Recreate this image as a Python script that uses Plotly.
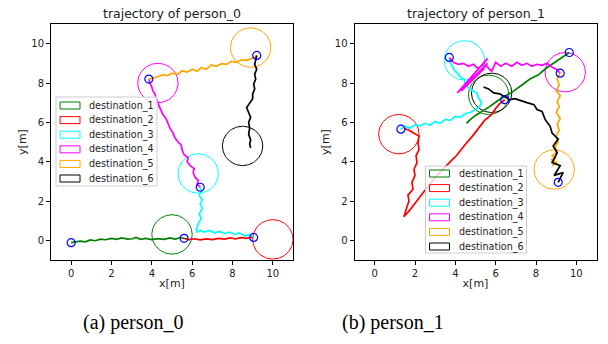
import numpy as np
import plotly.graph_objects as go

# ---------------- data ----------------
dest_names = ["destination_1", "destination_2", "destination_3",
              "destination_4", "destination_5", "destination_6"]
dest_colors = ["#008000", "#ff0000", "#00ffff", "#ff00ff", "#ffa500", "#000000"]
dest_radius = 1.0

# person_0 destinations (centres)
p0_dest_x = [5.0, 10.0, 6.3, 4.3, 8.9, 8.5]
p0_dest_y = [0.3, 0.05, 3.4, 8.0, 9.8, 4.8]

# person_0 trajectories
p0_green_x = [0.0, 0.2, 0.45, 0.7, 0.95, 1.2, 1.45, 1.7, 2.0, 2.25, 2.5, 2.8, 3.05, 3.2, 3.45, 3.7, 4.0, 4.3, 4.6, 4.9, 5.15, 5.4, 5.6]
p0_green_y = [-0.12, -0.1, -0.04, -0.08, 0.02, -0.02, 0.06, 0.03, 0.1, 0.05, 0.12, 0.06, 0.08, 0.15, 0.05, 0.1, 0.04, 0.09, 0.05, 0.12, 0.06, 0.13, 0.1]
p0_red_x = [5.6, 5.85, 6.1, 6.4, 6.7, 7.0, 7.3, 7.6, 7.9, 8.15, 8.4, 8.7, 8.9, 9.05]
p0_red_y = [0.1, 0.04, 0.08, 0.02, 0.07, 0.04, 0.1, 0.06, 0.12, 0.07, 0.14, 0.1, 0.16, 0.15]
p0_cyan_x = [9.05, 8.85, 8.6, 8.35, 8.1, 7.85, 7.6, 7.35, 7.1, 6.85, 6.6, 6.4, 6.25, 6.2, 6.3, 6.45, 6.35, 6.5, 6.4, 6.5, 6.35, 6.45, 6.4]
p0_cyan_y = [0.15, 0.3, 0.22, 0.38, 0.3, 0.42, 0.35, 0.45, 0.38, 0.5, 0.42, 0.5, 0.42, 0.55, 0.85, 1.1, 1.35, 1.6, 1.85, 2.05, 2.3, 2.5, 2.7]
p0_mag_x = [6.4, 6.25, 6.3, 6.15, 6.05, 6.1, 5.9, 5.75, 5.8, 5.6, 5.5, 5.45, 5.3, 5.15, 5.05, 4.9, 4.8, 4.7, 4.55, 4.45, 4.35, 4.3, 4.2, 4.15, 4.05, 4.0, 3.9, 3.85]
p0_mag_y = [2.7, 2.85, 3.05, 3.2, 3.45, 3.65, 3.8, 4.0, 4.2, 4.35, 4.6, 4.85, 5.0, 5.2, 5.45, 5.7, 5.95, 6.2, 6.4, 6.6, 6.85, 7.05, 7.25, 7.45, 7.6, 7.8, 8.0, 8.2]
p0_orange_x = [3.85, 4.05, 4.3, 4.55, 4.8, 5.0, 5.3, 5.5, 5.75, 6.0, 6.25, 6.45, 6.7, 6.95, 7.2, 7.45, 7.7, 7.95, 8.2, 8.45, 8.7, 8.95, 9.1, 9.2]
p0_orange_y = [8.2, 8.25, 8.32, 8.42, 8.38, 8.5, 8.45, 8.62, 8.55, 8.7, 8.6, 8.78, 8.7, 8.92, 8.85, 8.98, 8.95, 9.1, 9.05, 9.18, 9.15, 9.25, 9.3, 9.4]
p0_black_x = [9.2, 9.15, 9.1, 9.2, 9.1, 9.15, 9.05, 9.1, 9.0, 9.0, 8.85, 8.7, 8.8, 8.9, 8.8, 8.85, 8.8, 8.9, 8.85, 8.9]
p0_black_y = [9.4, 9.2, 8.95, 8.7, 8.45, 8.2, 7.95, 7.7, 7.45, 7.2, 7.0, 6.75, 6.5, 6.25, 6.0, 5.7, 5.4, 5.1, 4.9, 4.7]

# person_1 destinations (centres)
p1_dest_x = [5.65, 1.2, 4.45, 9.45, 8.9, 5.8]
p1_dest_y = [7.4, 5.4, 9.15, 8.55, 3.6, 7.5]

# person_1 trajectories
p1_green_x = [9.65, 9.3, 8.9, 8.5, 8.1, 7.7, 7.3, 6.9, 6.5, 6.1, 5.7, 5.3, 5.0, 4.75, 4.55]
p1_green_y = [9.55, 9.3, 9.0, 8.75, 8.4, 8.2, 7.9, 7.6, 7.35, 7.1, 6.8, 6.55, 6.35, 6.15, 5.95]
p1_red_x = [6.45, 6.2, 6.0, 5.75, 5.45, 5.1, 4.85, 4.55, 4.3, 4.05, 3.8, 3.55, 3.3, 3.05, 2.8, 2.55, 2.3, 2.05, 1.75, 1.45, 1.6, 1.7, 1.65, 1.9, 1.85, 2.0, 1.95, 2.1, 2.05, 2.2, 2.15, 2.2, 1.95, 1.7, 1.45]
p1_red_y = [7.15, 6.95, 6.7, 6.35, 6.1, 5.6, 5.3, 4.95, 4.6, 4.3, 4.05, 3.8, 3.55, 3.25, 2.95, 2.6, 2.3, 1.95, 1.55, 1.2, 1.7, 2.0, 2.3, 2.6, 2.95, 3.3, 3.6, 3.95, 4.3, 4.6, 4.95, 5.3, 5.45, 5.6, 5.7]
p1_cyan_x = [1.3, 1.5, 1.75, 2.0, 2.25, 2.5, 2.75, 3.0, 3.25, 3.5, 3.75, 4.0, 4.25, 4.5, 4.75, 5.0, 5.2, 5.3, 5.15, 5.05, 4.85, 4.65, 4.5, 4.45, 4.25, 4.1, 3.95, 3.85, 3.75, 3.7]
p1_cyan_y = [5.65, 5.8, 5.7, 5.88, 5.82, 5.95, 5.85, 6.05, 5.95, 6.15, 6.1, 6.3, 6.25, 6.45, 6.5, 6.65, 6.8, 7.0, 7.25, 7.5, 7.6, 7.75, 7.9, 8.15, 8.3, 8.5, 8.65, 8.85, 9.05, 9.3]
p1_mag_x = [3.7, 3.9, 4.15, 4.4, 4.65, 4.9, 5.1, 5.35, 5.6, 4.1, 5.6, 4.3, 5.45, 4.55, 5.5, 5.8, 6.0, 6.25, 6.5, 6.8, 7.05, 7.3, 7.55, 7.8, 8.05, 8.3, 8.55, 8.8, 9.0, 9.2]
p1_mag_y = [9.3, 9.05, 8.95, 9.0, 8.85, 8.95, 8.75, 8.9, 9.25, 7.5, 9.0, 7.6, 8.75, 7.85, 8.9, 8.6, 9.05, 8.85, 9.0, 8.85, 9.05, 8.9, 9.0, 8.85, 8.95, 8.9, 9.0, 8.8, 8.7, 8.5]
p1_orange_x = [9.2, 9.05, 9.15, 9.0, 9.2, 9.05, 9.15, 9.0, 9.2, 9.05, 9.15, 9.0, 9.1, 8.95, 9.05, 8.8, 9.0, 8.75, 9.05, 8.8]
p1_orange_y = [8.5, 8.2, 7.9, 7.6, 7.35, 7.05, 6.8, 6.5, 6.2, 5.9, 5.6, 5.3, 5.0, 4.75, 4.5, 4.3, 4.2, 4.1, 3.95, 3.8]
p1_black_x = [9.1, 9.35, 8.9, 9.2, 8.8, 9.05, 8.85, 9.1, 8.8, 8.7, 8.45, 8.3, 8.05, 7.9, 7.55, 7.2, 6.95, 6.7, 6.45, 6.2, 5.9, 5.65, 5.4]
p1_black_y = [2.95, 3.45, 3.3, 3.8, 3.95, 4.45, 4.8, 5.15, 5.45, 5.8, 6.15, 6.55, 6.65, 6.9, 7.0, 7.1, 7.2, 7.15, 7.3, 7.45, 7.5, 7.7, 7.8]

axis_range = [-1, 11]
tick_vals = [0, 2, 4, 6, 8, 10]
titles = ["trajectory of person_0", "trajectory of person_1"]
captions = ["(a) person_0", "(b) person_1"]

# ---------------- figure ----------------
W, H = 608, 344
fig = go.Figure()

theta = np.linspace(0, 2 * np.pi, 121)


def add_person(dx, dy, trajs, xa, ya):
    for i, (cx, cy) in enumerate(zip(dx, dy)):
        fig.add_trace(go.Scatter(
            x=cx + dest_radius * np.cos(theta), y=cy + dest_radius * np.sin(theta),
            mode="lines", line=dict(color=dest_colors[i], width=1),
            name=dest_names[i], xaxis=xa, yaxis=ya, showlegend=False,
            hoverinfo="skip"))
    for i, (tx, ty) in enumerate(trajs):
        fig.add_trace(go.Scatter(
            x=tx, y=ty, mode="lines", line=dict(color=dest_colors[i], width=1.7),
            showlegend=False, xaxis=xa, yaxis=ya, name=dest_names[i]))
    fig.add_trace(go.Scatter(
        x=[t[0][0] for t in trajs], y=[t[1][0] for t in trajs], mode="markers",
        marker=dict(symbol="circle-open", size=8, color="#0000ff", line=dict(width=1.2)),
        showlegend=False, xaxis=xa, yaxis=ya, name="start"))


p0_trajs = [(p0_green_x, p0_green_y), (p0_red_x, p0_red_y), (p0_cyan_x, p0_cyan_y),
            (p0_mag_x, p0_mag_y), (p0_orange_x, p0_orange_y), (p0_black_x, p0_black_y)]
p1_trajs = [(p1_green_x, p1_green_y), (p1_red_x, p1_red_y), (p1_cyan_x, p1_cyan_y),
            (p1_mag_x, p1_mag_y), (p1_orange_x, p1_orange_y), (p1_black_x, p1_black_y)]

add_person(p0_dest_x, p0_dest_y, p0_trajs, "x", "y")
add_person(p1_dest_x, p1_dest_y, p1_trajs, "x2", "y2")

ydom = [1 - 260 / H, 1 - 24 / H]
ax_common = dict(range=axis_range, tickvals=tick_vals, showgrid=False, zeroline=False,
                 showline=True, mirror=True, linecolor="black", linewidth=1,
                 ticks="outside", ticklen=4, tickcolor="black",
                 tickfont=dict(family="DejaVu Sans", size=10, color="#222"))
xlab = dict(text="x[m]", font=dict(family="DejaVu Sans", size=11, color="#222"), standoff=1)
ylab = dict(text="y[m]", font=dict(family="DejaVu Sans", size=11, color="#222"), standoff=2)

fig.update_layout(
    width=W, height=H, margin=dict(l=0, r=0, t=0, b=0),
    paper_bgcolor="white", plot_bgcolor="white", showlegend=False,
    xaxis=dict(domain=[51 / W, 293 / W], anchor="y", title=xlab, **ax_common),
    yaxis=dict(domain=ydom, anchor="x", title=ylab, **ax_common),
    xaxis2=dict(domain=[354.5 / W, 596.5 / W], anchor="y2", title=xlab, **ax_common),
    yaxis2=dict(domain=ydom, anchor="x2", title=ylab, **ax_common),
)


def px(x):
    return x / W


def py(y):
    return 1 - y / H


# manual legends (box, outlined patches, labels), positioned in pixels
def add_legend(left, top, width, row0, step):
    n = len(dest_names)
    fig.add_shape(type="rect", xref="paper", yref="paper",
                  x0=px(left), x1=px(left + width), y0=py(top), y1=py(top + row0 * 2 + step * (n - 1) - 1),
                  fillcolor="rgba(255,255,255,0.8)", line=dict(color="#cccccc", width=1), layer="above")
    for i, (nm, col) in enumerate(zip(dest_names, dest_colors)):
        yc = top + row0 + step * i
        fig.add_shape(type="rect", xref="paper", yref="paper",
                      x0=px(left + 4), x1=px(left + 24), y0=py(yc - 3.5), y1=py(yc + 3.5),
                      fillcolor="rgba(0,0,0,0)", line=dict(color=col, width=1), layer="above")
        fig.add_annotation(x=px(left + 31), y=py(yc), xref="paper", yref="paper", text=nm,
                           showarrow=False, xanchor="left", yanchor="middle",
                           font=dict(family="DejaVu Sans", size=9.6, color="#222"))


add_legend(56, 97, 101, 8.5, 14.6)
add_legend(425.5, 166, 101, 7.5, 14.6)

for cx, t in zip([172 / W, 475.5 / W], titles):
    fig.add_annotation(x=cx, y=1 - 14 / H, xref="paper", yref="paper", text=t,
                       showarrow=False, xanchor="center", yanchor="middle",
                       font=dict(family="DejaVu Sans", size=12.5, color="#222"))
for cx, t in zip([133 / W, 393 / W], captions):
    fig.add_annotation(x=cx, y=1 - 322 / H, xref="paper", yref="paper", text=t,
                       showarrow=False, xanchor="center", yanchor="middle",
                       font=dict(family="Liberation Serif", size=20, color="black"))

fig.write_html("out.html", config={"displayModeBar": False},
               post_script="document.body.style.margin='0';document.body.style.overflow='hidden';")
